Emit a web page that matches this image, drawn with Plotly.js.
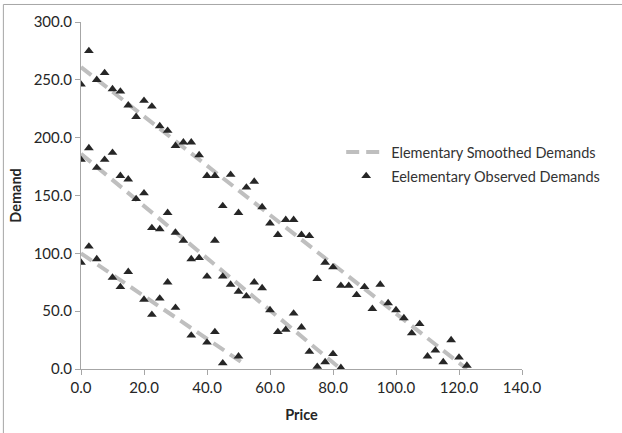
<!DOCTYPE html>
<html>
<head>
<meta charset="utf-8">
<script src="https://cdn.plot.ly/plotly-3.0.1.min.js"></script>
<style>html,body{margin:0;padding:0;background:#fff;}#chart{width:622px;height:433px;}</style>
</head>
<body>
<div id="chart"></div>
<script>
// Observed demands
var priceHigh = [0,2.5,5,7.5,10,12.5,15,17.5,20,22.5,25,27.5,30,32.5,35,37.5,40,42.5,45,47.5,50,52.5,55,57.5,60,62.5,65,67.5,70,72.5,75,77.5,80,82.5,85,87.5,90,92.5,95,97.5,100,102.5,105,107.5,110,112.5,115,117.5,120,122.5];
var demandHigh = [246,275,250,256,242,240,228,218,232,227,210,206,193,196,196,185,167,167,141,168,135,157,162,140,126,116,129,129,116,115,78,92,88,72,72,64,71,52,73,57,51,44,31,39,11,16,6,25,10,3];

var priceMid = [0,2.5,5,7.5,10,12.5,15,17.5,20,22.5,25,27.5,30,32.5,35,37.5,40,42.5,45,47.5,50,52.5,55,57.5,60,62.5,65,67.5,70,72.5,75,77.5,80,82.5];
var demandMid = [181,191,174,181,187,167,164,147,152,122,121,135,118,111,95,96,80,111,80,73,67,63,75,70,51,32,34,48,36,15,2,6,13,1];

var priceLow = [0,2.5,5,10,12.5,15,20,22.5,25,27.5,30,35,40,42.5,45,50];
var demandLow = [92,106,95,79,71,84,60,47,61,75,53,29,23,32,5,11];

// Smoothed demand lines (endpoints of each straight segment; null separates the three groups)
var priceSmooth = [0,122.5,null,0,82.5,null,0,52.5];
var demandSmooth = [261,0,null,186,0,null,100,3];

var xTicks = [0,20,40,60,80,100,120,140];
var yTicks = [0,50,100,150,200,250,300];

var fontFam = 'Lato, "Open Sans", sans-serif';
var textCol = '#262626';
var fs = 14.5;

var traces = [
  {
    x: priceSmooth, y: demandSmooth, type: 'scatter', mode: 'lines',
    name: 'Elementary Smoothed Demands', legend: 'legend',
    line: {color: '#BFBFBF', width: 4, dash: '13px,7px'},
    connectgaps: false
  },
  {
    x: priceHigh.concat([null], priceMid, [null], priceLow),
    y: demandHigh.concat([null], demandMid, [null], demandLow),
    type: 'scatter', mode: 'markers',
    name: 'Eelementary Observed Demands', legend: 'legend2',
    marker: {symbol: 'triangle-up', size: 8.5, color: '#262626'}
  }
];

var legBase = {xanchor: 'left', yanchor: 'middle', bgcolor: 'rgba(0,0,0,0)',
               font: {family: fontFam, size: fs, color: '#333333'}, itemwidth: 40};

var layout = {
  width: 622, height: 433,
  margin: {l: 81, r: 100, t: 22, b: 64},
  paper_bgcolor: '#fff', plot_bgcolor: '#fff',
  font: {family: fontFam, color: textCol, size: fs},
  showlegend: true,
  legend: Object.assign({}, legBase, {x: 0.59, y: 0.6254}),
  legend2: Object.assign({}, legBase, {x: 0.59, y: 0.556}),
  xaxis: {
    range: [0, 140], tickvals: xTicks, tickformat: '.1f',
    showgrid: false, zeroline: false, showline: true, linecolor: '#A6A6A6', linewidth: 1,
    ticks: 'outside', ticklen: 5, tickcolor: '#A6A6A6',
    tickfont: {family: fontFam, size: 15, color: textCol},
    title: {text: '<b>Price</b>', font: {family: fontFam, size: fs, color: textCol}, standoff: 14}
  },
  yaxis: {
    range: [0, 300], tickvals: yTicks, tickformat: '.1f',
    showgrid: false, zeroline: false, showline: true, linecolor: '#A6A6A6', linewidth: 1,
    ticks: 'outside', ticklen: 5, tickcolor: '#A6A6A6',
    tickfont: {family: fontFam, size: 15, color: textCol},
    title: {text: '<b>Demand</b>', font: {family: fontFam, size: fs, color: textCol}, standoff: 8}
  },
  shapes: [
    {type: 'rect', xref: 'paper', yref: 'paper', x0: -0.176, x1: 1.4, y0: -0.4, y1: 1.0505,
     line: {color: '#A6A6A6', width: 1}, fillcolor: 'rgba(0,0,0,0)', layer: 'below'}
  ]
};

Plotly.newPlot('chart', traces, layout, {displayModeBar: false, staticPlot: true});
</script>
</body>
</html>
